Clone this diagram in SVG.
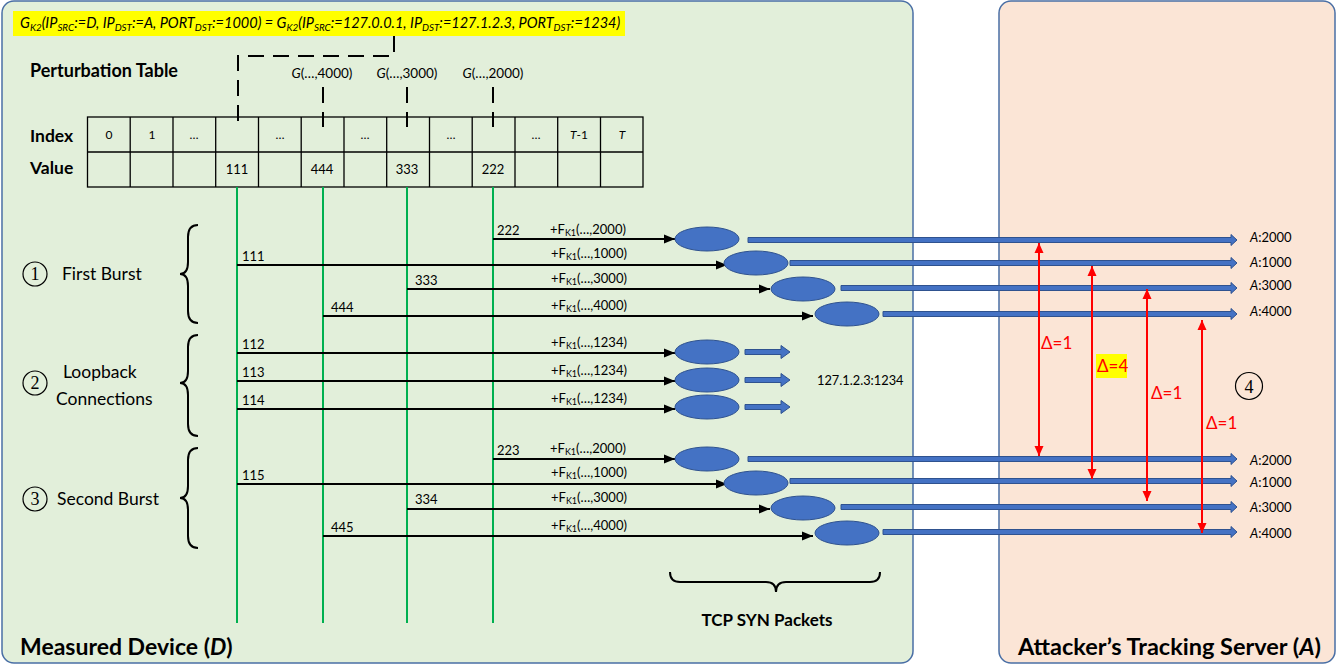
<svg xmlns="http://www.w3.org/2000/svg" width="1343" height="665" viewBox="0 0 1343 665">
<style>
.t{font-family:Lato,"Open Sans","Liberation Sans",sans-serif;fill:#000}
.s13{font-size:13px}
.s11{font-size:11px}
.b{font-weight:bold}
.i{font-style:italic}
.blk{stroke:#000;stroke-width:2;fill:none}
.grn{stroke:#00b050;stroke-width:2}
.ell{fill:#4472c4;stroke:#2f528f;stroke-width:1}
.barr{fill:#4472c4;stroke:#2f528f;stroke-width:1}
.red{stroke:#ff0000;stroke-width:2;fill:none}
.rt{font-family:Lato,"Open Sans","Liberation Sans",sans-serif;font-size:17px;fill:#ff0000}
.cell{fill:none;stroke:#000;stroke-width:1.3}
.dash{stroke:#000;stroke-width:2;stroke-dasharray:16 9;fill:none}
.brace{stroke:#000;stroke-width:2;fill:none}
.circ{fill:none;stroke:#000;stroke-width:1.2}
.num{font-family:"Liberation Serif",serif;font-size:18px;fill:#000}
.lab{font-size:17.5px}
.sub{font-size:9.8px}
</style>
<defs>
<marker id="ah" markerUnits="userSpaceOnUse" markerWidth="12" markerHeight="12" refX="11" refY="6" orient="auto"><path d="M0,1.5 L11,6 L0,10.5 Z" fill="#000"/></marker>
<marker id="rh" markerUnits="userSpaceOnUse" markerWidth="12" markerHeight="12" refX="10" refY="5" orient="auto-start-reverse"><path d="M0,0.5 L10,5 L0,9.5 Z" fill="#ff0000"/></marker>
</defs>

<g id="panel-device">
<rect x="2" y="1" width="911" height="662" rx="12" fill="#e2efda" stroke="#4a6fa5" stroke-width="1.5"/>
<text class="t b" x="20" y="655" font-size="23">Measured Device (<tspan class="i">D</tspan>)</text>
</g>
<g id="panel-server">
<rect x="999" y="1" width="336" height="662" rx="12" fill="#fbe5d6" stroke="#4a6fa5" stroke-width="1.5"/>
<text class="t b" x="1018" y="655" font-size="23.5">Attacker’s Tracking Server (<tspan class="i">A</tspan>)</text>
</g>

<g id="formula">
<rect x="13" y="11" width="612" height="25" fill="#ffff00"/>
<text class="t i" x="20" y="28" font-size="14.5">G<tspan class="sub" dy="3">K2</tspan><tspan dy="-3">(IP</tspan><tspan class="sub" dy="3">SRC</tspan><tspan dy="-3">:=D, IP</tspan><tspan class="sub" dy="3">DST</tspan><tspan dy="-3">:=A, PORT</tspan><tspan class="sub" dy="3">DST</tspan><tspan dy="-3">:=1000) = G</tspan><tspan class="sub" dy="3">K2</tspan><tspan dy="-3">(IP</tspan><tspan class="sub" dy="3">SRC</tspan><tspan dy="-3">:=127.0.0.1, IP</tspan><tspan class="sub" dy="3">DST</tspan><tspan dy="-3">:=127.1.2.3, PORT</tspan><tspan class="sub" dy="3">DST</tspan><tspan dy="-3">:=1234)</tspan></text>
</g>

<g id="perturbation-table">
<text class="t b" x="30" y="77" font-size="18">Perturbation Table</text>
<text class="t b" x="30" y="142" font-size="17.5">Index</text>
<text class="t b" x="30" y="174" font-size="17.5">Value</text>
<rect class="cell" x="87.5" y="117" width="555.5" height="70"/>
<line class="cell" x1="87.5" y1="152" x2="643" y2="152"/>
<path class="cell" d="M130.2,117V187M173,117V187M215.7,117V187M258.5,117V187M301.2,117V187M344,117V187M386.7,117V187M429.5,117V187M472.2,117V187M515,117V187M557.7,117V187M600.5,117V187"/>
<g class="t" font-size="12" text-anchor="middle">
<text x="109" y="139">0</text>
<text x="152" y="139">1</text>
<text x="194" y="139">…</text>
<text x="280" y="139">…</text>
<text x="365" y="139">…</text>
<text x="451" y="139">…</text>
<text x="536" y="139">…</text>
<text x="579" y="139"><tspan class="i">T</tspan>-1</text>
<text x="622" y="139" class="i">T</text>
</g>
<g class="t s13" text-anchor="middle">
<text x="237" y="174">111</text>
<text x="322" y="174">444</text>
<text x="407" y="174">333</text>
<text x="493" y="174">222</text>
</g>
<g class="t" font-size="13.5" text-anchor="middle">
<text x="322" y="78"><tspan class="i">G</tspan>(…,4000)</text>
<text x="407" y="78"><tspan class="i">G</tspan>(…,3000)</text>
<text x="493" y="78"><tspan class="i">G</tspan>(…,2000)</text>
</g>
</g>

<g id="connectors">
<path class="dash" d="M394,36 V56 H238 V127"/>
<line class="dash" x1="323" y1="87" x2="323" y2="127"/>
<line class="dash" x1="407" y1="87" x2="407" y2="127"/>
<line class="dash" x1="493" y1="87" x2="493" y2="127"/>
<line class="grn" x1="237" y1="187" x2="237" y2="623"/>
<line class="grn" x1="323" y1="187" x2="323" y2="623"/>
<line class="grn" x1="407" y1="187" x2="407" y2="623"/>
<line class="grn" x1="493" y1="187" x2="493" y2="623"/>
<line class="blk" x1="493" y1="239" x2="675" y2="239" marker-end="url(#ah)"/>
<line class="blk" x1="237" y1="265" x2="727" y2="265" marker-end="url(#ah)"/>
<line class="blk" x1="407" y1="289" x2="770" y2="289" marker-end="url(#ah)"/>
<line class="blk" x1="323" y1="316" x2="813" y2="316" marker-end="url(#ah)"/>
<line class="blk" x1="237" y1="353" x2="675" y2="353" marker-end="url(#ah)"/>
<line class="blk" x1="237" y1="381" x2="675" y2="381" marker-end="url(#ah)"/>
<line class="blk" x1="237" y1="409" x2="675" y2="409" marker-end="url(#ah)"/>
<line class="blk" x1="493" y1="459" x2="675" y2="459" marker-end="url(#ah)"/>
<line class="blk" x1="237" y1="484" x2="727" y2="484" marker-end="url(#ah)"/>
<line class="blk" x1="407" y1="509" x2="770" y2="509" marker-end="url(#ah)"/>
<line class="blk" x1="323" y1="536" x2="813" y2="536" marker-end="url(#ah)"/>
<path class="barr" d="M748,237.5H1231V234.5L1237,240L1231,245.5V242.5H748Z"/>
<path class="barr" d="M790,260.5H1231V257.5L1237,263L1231,268.5V265.5H790Z"/>
<path class="barr" d="M841,285.5H1231V282.5L1237,288L1231,293.5V290.5H841Z"/>
<path class="barr" d="M883,311.5H1231V308.5L1237,314L1231,319.5V316.5H883Z"/>
<path class="barr" d="M745,349.5H781V345.5L790,352L781,358.5V354.5H745Z"/>
<path class="barr" d="M745,377.5H781V373.5L790,380L781,386.5V382.5H745Z"/>
<path class="barr" d="M745,404.5H781V400.5L790,407L781,413.5V409.5H745Z"/>
<path class="barr" d="M748,456.5H1231V453.5L1237,459L1231,464.5V461.5H748Z"/>
<path class="barr" d="M790,478.5H1231V475.5L1237,481L1231,486.5V483.5H790Z"/>
<path class="barr" d="M841,504.5H1231V501.5L1237,507L1231,512.5V509.5H841Z"/>
<path class="barr" d="M883,529.5H1231V526.5L1237,532L1231,537.5V534.5H883Z"/>
<line class="red" x1="1039" y1="243" x2="1039" y2="456" marker-start="url(#rh)" marker-end="url(#rh)"/>
<line class="red" x1="1092" y1="266" x2="1092" y2="479" marker-start="url(#rh)" marker-end="url(#rh)"/>
<line class="red" x1="1147" y1="289" x2="1147" y2="501" marker-start="url(#rh)" marker-end="url(#rh)"/>
<line class="red" x1="1202" y1="320" x2="1202" y2="533" marker-start="url(#rh)" marker-end="url(#rh)"/>
</g>

<g id="packets-first">
<ellipse class="ell" cx="707" cy="239" rx="32" ry="12"/>
<ellipse class="ell" cx="756" cy="263" rx="32" ry="12"/>
<ellipse class="ell" cx="803" cy="289" rx="32" ry="12"/>
<ellipse class="ell" cx="847" cy="314" rx="32" ry="12"/>
</g>
<g id="packets-loopback">
<ellipse class="ell" cx="707" cy="352" rx="32" ry="12"/>
<ellipse class="ell" cx="707" cy="380" rx="32" ry="12"/>
<ellipse class="ell" cx="707" cy="407" rx="32" ry="12"/>
</g>
<g id="packets-second">
<ellipse class="ell" cx="707" cy="459" rx="32" ry="12"/>
<ellipse class="ell" cx="756" cy="483" rx="32" ry="12"/>
<ellipse class="ell" cx="803" cy="508" rx="32" ry="12"/>
<ellipse class="ell" cx="847" cy="533" rx="32" ry="12"/>
</g>

<g id="value-labels" class="t s13">
<text x="497" y="235">222</text>
<text x="242" y="261">111</text>
<text x="415" y="285">333</text>
<text x="331" y="312">444</text>
<text x="242" y="349">112</text>
<text x="242" y="377">113</text>
<text x="242" y="405">114</text>
<text x="497" y="455">223</text>
<text x="242" y="480">115</text>
<text x="415" y="504">334</text>
<text x="331" y="532">445</text>
</g>

<g id="f-labels" class="t s13">
<text x="550" y="234">+F<tspan font-size="9" dy="2">K1</tspan><tspan dy="-2">(…,2000)</tspan></text>
<text x="551" y="258">+F<tspan font-size="9" dy="2">K1</tspan><tspan dy="-2">(…,1000)</tspan></text>
<text x="551" y="283">+F<tspan font-size="9" dy="2">K1</tspan><tspan dy="-2">(…,3000)</tspan></text>
<text x="551" y="310">+F<tspan font-size="9" dy="2">K1</tspan><tspan dy="-2">(…,4000)</tspan></text>
<text x="551" y="347">+F<tspan font-size="9" dy="2">K1</tspan><tspan dy="-2">(…,1234)</tspan></text>
<text x="551" y="375">+F<tspan font-size="9" dy="2">K1</tspan><tspan dy="-2">(…,1234)</tspan></text>
<text x="551" y="403">+F<tspan font-size="9" dy="2">K1</tspan><tspan dy="-2">(…,1234)</tspan></text>
<text x="550" y="453">+F<tspan font-size="9" dy="2">K1</tspan><tspan dy="-2">(…,2000)</tspan></text>
<text x="551" y="477">+F<tspan font-size="9" dy="2">K1</tspan><tspan dy="-2">(…,1000)</tspan></text>
<text x="551" y="502">+F<tspan font-size="9" dy="2">K1</tspan><tspan dy="-2">(…,3000)</tspan></text>
<text x="551" y="530">+F<tspan font-size="9" dy="2">K1</tspan><tspan dy="-2">(…,4000)</tspan></text>
<text x="817" y="385" font-size="12.8">127.1.2.3:1234</text>
</g>

<g id="dest-labels" class="t s13">
<text x="1250" y="242"><tspan class="i">A</tspan>:2000</text>
<text x="1250" y="267"><tspan class="i">A</tspan>:1000</text>
<text x="1250" y="290"><tspan class="i">A</tspan>:3000</text>
<text x="1250" y="316"><tspan class="i">A</tspan>:4000</text>
<text x="1250" y="465"><tspan class="i">A</tspan>:2000</text>
<text x="1250" y="487"><tspan class="i">A</tspan>:1000</text>
<text x="1250" y="512"><tspan class="i">A</tspan>:3000</text>
<text x="1250" y="538"><tspan class="i">A</tspan>:4000</text>
</g>

<g id="deltas">
<text class="rt" x="1041" y="349">Δ=1</text>
<rect x="1096" y="354" width="31" height="24" fill="#ffff00"/>
<text class="rt" x="1097" y="372">Δ=4</text>
<text class="rt" x="1151" y="399">Δ=1</text>
<text class="rt" x="1206" y="429">Δ=1</text>
</g>

<g id="first-burst">
<path class="brace" d="M198,225 Q188,225 188,237 V262 Q188,274 180,274 Q188,274 188,286 V311 Q188,323 198,323"/>
<circle class="circ" cx="35" cy="274" r="12"/>
<text class="num" x="35" y="280" text-anchor="middle">1</text>
<text class="t lab" x="62" y="280">First Burst</text>
</g>
<g id="loopback">
<path class="brace" d="M198,335 Q188,335 188,347 V371 Q188,383 180,383 Q188,383 188,395 V424 Q188,436 198,436"/>
<circle class="circ" cx="35" cy="383" r="12"/>
<text class="num" x="35" y="389" text-anchor="middle">2</text>
<text class="t lab" x="63" y="378">Loopback</text>
<text class="t lab" x="56" y="405">Connections</text>
</g>
<g id="second-burst">
<path class="brace" d="M198,448 Q188,448 188,460 V486 Q188,498 180,498 Q188,498 188,510 V536 Q188,548 198,548"/>
<circle class="circ" cx="35" cy="499" r="12"/>
<text class="num" x="35" y="505" text-anchor="middle">3</text>
<text class="t lab" x="57" y="505">Second Burst</text>
</g>
<g id="step4">
<circle class="circ" cx="1249" cy="386" r="13.5"/>
<text class="num" x="1249" y="392.5" text-anchor="middle" font-size="20">4</text>
</g>
<g id="tcp-syn">
<path class="brace" d="M670,572 Q670,582 680,582 H766 Q776,582 776,592 Q776,582 786,582 H870 Q880,582 880,572"/>
<text class="t b" x="767" y="626" font-size="17" text-anchor="middle">TCP SYN Packets</text>
</g>
</svg>
